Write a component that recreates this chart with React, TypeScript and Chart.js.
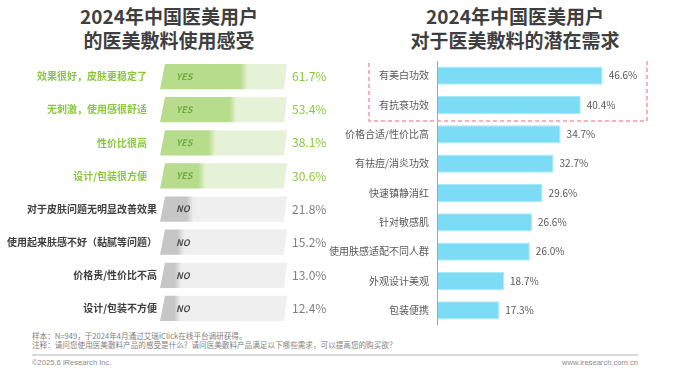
import React, { useEffect, useRef } from "react";
import { Chart, registerables } from "chart.js";

Chart.register(...registerables);

const FONT = '"Noto Sans CJK SC", "Noto Sans", sans-serif';

// Left chart: feelings about medical dressing
const feelLabels = [
  "效果很好，皮肤更稳定了",
  "无刺激，使用感很舒适",
  "性价比很高",
  "设计/包装很方便",
  "对于皮肤问题无明显改善效果",
  "使用起来肤感不好（黏腻等问题）",
  "价格贵/性价比不高",
  "设计/包装不方便",
];
const feelValues = [61.7, 53.4, 38.1, 30.6, 21.8, 15.2, 13.0, 12.4];
const feelGroups = ["YES", "YES", "YES", "YES", "NO", "NO", "NO", "NO"];
const feelAxisMax = 94;

// Right chart: needs
const needLabels = [
  "有美白功效",
  "有抗衰功效",
  "价格合适/性价比高",
  "有祛痘/消炎功效",
  "快速镇静消红",
  "针对敏感肌",
  "使用肤感适配不同人群",
  "外观设计美观",
  "包装便携",
];
const needValues = [46.6, 40.4, 34.7, 32.7, 29.6, 26.6, 26.0, 18.7, 17.3];
const highlightedNeeds = 2;
const needAxisMax = 60;

const leftTitle = ["2024年中国医美用户", "的医美敷料使用感受"];
const rightTitle = ["2024年中国医美用户", "对于医美敷料的潜在需求"];
const notes = [
  "样本：N=949，于2024年4月通过艾瑞iClick在线平台调研获得。",
  "注释：请问您使用医美敷料产品的感受是什么？请问医美敷料产品满足以下哪些需求，可以提高您的购买欲？",
];
const copyright = "©2025.6 iResearch Inc.";
const website = "www.iresearch.com.cn";

const groupStyle: Record<string, any> = {
  YES: { dark: "#b6dc8c", light: "#e6f2d8", tag: "#6fae3f", pct: "#8cc63f", label: "#8cc63f", labelGap: 13 },
  NO: { dark: "#c6c6c6", light: "#efefef", tag: "#505050", pct: "#7f7f7f", label: "#404040", labelGap: 3 },
};

const feelPlugin = {
  id: "feelBars",
  afterDatasetsDraw(chart: any) {
    const ctx = chart.ctx;
    const area = chart.chartArea;
    const xs = chart.scales.x;
    const meta = chart.getDatasetMeta(0);
    meta.data.forEach((el: any, i: number) => {
      const p = el.getProps(["x", "y", "height"], true);
      const y = p.y;
      const h = p.height;
      const top = y - h / 2;
      const bot = y + h / 2;
      const L = xs.getPixelForValue(0);
      const R = area.right;
      const st = groupStyle[feelGroups[i]];
      const vx = p.x;
      const g = ctx.createLinearGradient(L, 0, R, 0);
      const s1 = Math.max(0, Math.min(1, (vx - 3 - L) / (R - L)));
      const s2 = Math.max(0, Math.min(1, (vx + 4 - L) / (R - L)));
      g.addColorStop(0, st.dark);
      g.addColorStop(s1, st.dark);
      g.addColorStop(s2, st.light);
      g.addColorStop(1, st.light);
      ctx.save();
      ctx.beginPath();
      ctx.moveTo(L + 5, top);
      ctx.lineTo(R, top);
      ctx.lineTo(R - 3, bot);
      ctx.lineTo(L, bot);
      ctx.closePath();
      ctx.fillStyle = g;
      ctx.fill();

      ctx.textBaseline = "middle";
      ctx.font = `italic bold 9px ${FONT}`;
      ctx.fillStyle = st.tag;
      ctx.textAlign = "left";
      ctx.fillText(feelGroups[i], L + 16, y);

      ctx.font = `12px ${FONT}`;
      ctx.fillStyle = st.pct;
      ctx.fillText(feelValues[i].toFixed(1) + "%", R + 5, y);

      ctx.font = `bold 10px ${FONT}`;
      ctx.fillStyle = st.label;
      ctx.textAlign = "right";
      ctx.fillText(feelLabels[i], L - st.labelGap, y);
      ctx.restore();
    });
  },
};

const needPlugin = {
  id: "needExtras",
  afterDatasetsDraw(chart: any) {
    const ctx = chart.ctx;
    const area = chart.chartArea;
    const meta = chart.getDatasetMeta(0);
    ctx.save();
    // axis line
    ctx.strokeStyle = "#a6a6a6";
    ctx.lineWidth = 1;
    ctx.beginPath();
    ctx.moveTo(area.left - 0.5, area.top - 1);
    ctx.lineTo(area.left - 0.5, area.bottom);
    ctx.stroke();

    ctx.font = `10px ${FONT}`;
    ctx.textBaseline = "middle";
    meta.data.forEach((el: any, i: number) => {
      const p = el.getProps(["x", "y"], true);
      ctx.fillStyle = "#595959";
      ctx.textAlign = "left";
      ctx.fillText(needValues[i].toFixed(1) + "%", p.x + 6, p.y);
      ctx.textAlign = "right";
      ctx.fillText(needLabels[i], area.left - 9, p.y);
    });
    // dashed highlight box around top rows
    const first = meta.data[0].getProps(["y"], true).y;
    const last = meta.data[highlightedNeeds - 1].getProps(["y"], true).y;
    ctx.beginPath();
    ctx.strokeStyle = "#f59aa6";
    ctx.lineWidth = 1.5;
    ctx.setLineDash([4, 3]);
    ctx.rect(
      Math.round(area.left - 69),
      Math.round(first - 17),
      Math.round(area.right - 3 - (area.left - 69)),
      Math.round(last - first + 33)
    );
    ctx.stroke();
    ctx.restore();
  },
};

function FeelChart() {
  const ref = useRef<HTMLCanvasElement>(null);
  useEffect(() => {
    const chart = new Chart(ref.current!, {
      type: "bar",
      data: {
        labels: feelLabels,
        datasets: [
          {
            data: feelValues,
            backgroundColor: "rgba(0,0,0,0)",
            barPercentage: 0.76,
            categoryPercentage: 1,
          },
        ],
      },
      options: {
        indexAxis: "y",
        responsive: false,
        animation: false,
        layout: { padding: { left: 160, right: 58, top: 0, bottom: 0 } },
        plugins: { legend: { display: false }, tooltip: { enabled: false } },
        scales: {
          x: { display: false, min: 0, max: feelAxisMax },
          y: { display: false },
        },
      },
      plugins: [feelPlugin],
    });
    return () => chart.destroy();
  }, []);
  return (
    <canvas
      ref={ref}
      width={345}
      height={265}
      style={{ position: "absolute", left: 0, top: 60, width: 345, height: 265 }}
    />
  );
}

function NeedChart() {
  const ref = useRef<HTMLCanvasElement>(null);
  useEffect(() => {
    const chart = new Chart(ref.current!, {
      type: "bar",
      data: {
        labels: needLabels,
        datasets: [
          {
            data: needValues,
            backgroundColor: "#7ddcf5",
            borderColor: "#a9e9f9",
            borderWidth: 1,
            barPercentage: 0.62,
            categoryPercentage: 1,
          },
        ],
      },
      options: {
        indexAxis: "y",
        responsive: false,
        animation: false,
        layout: { padding: { left: 118, right: 50, top: 0, bottom: 0 } },
        plugins: { legend: { display: false }, tooltip: { enabled: false } },
        scales: {
          x: { display: false, min: 0, max: needAxisMax },
          y: { display: false },
        },
      },
      plugins: [needPlugin],
    });
    return () => chart.destroy();
  }, []);
  return (
    <canvas
      ref={ref}
      width={380}
      height={264}
      style={{ position: "absolute", left: 320, top: 61, width: 380, height: 264 }}
    />
  );
}

function Title({ lines, cx }: { lines: string[]; cx: number }) {
  return (
    <div
      style={{
        position: "absolute",
        left: cx - 150,
        top: 4,
        width: 300,
        textAlign: "center",
        fontFamily: FONT,
        fontWeight: 700,
        fontSize: 19,
        lineHeight: "24px",
        color: "#3f3f3f",
      }}
    >
      {lines.map((l, i) => (
        <div key={i}>{l}</div>
      ))}
    </div>
  );
}

export default function App() {
  return (
    <div
      style={{
        position: "fixed",
        left: 0,
        top: 0,
        width: 700,
        height: 373,
        overflow: "hidden",
        background: "#ffffff",
        fontFamily: FONT,
      }}
    >
      <Title lines={leftTitle} cx={169} />
      <Title lines={rightTitle} cx={515} />
      <FeelChart />
      <NeedChart />
      <div
        style={{
          position: "absolute",
          left: 32,
          top: 332,
          fontSize: 7.6,
          lineHeight: "8.5px",
          color: "#7f7f7f",
          whiteSpace: "nowrap",
        }}
      >
        {notes.map((n, i) => (
          <div key={i}>{n}</div>
        ))}
      </div>
      <div
        style={{
          position: "absolute",
          left: 32,
          top: 354,
          width: 606,
          height: 2,
          background: "#d9d9d9",
        }}
      />
      <div
        style={{
          position: "absolute",
          left: 32,
          top: 358,
          fontSize: 7.6,
          lineHeight: "10px",
          color: "#8c8c8c",
          fontFamily: '"Liberation Sans", Arial, sans-serif',
        }}
      >
        {copyright}
      </div>
      <div
        style={{
          position: "absolute",
          right: 62,
          top: 358,
          fontSize: 7.6,
          lineHeight: "10px",
          color: "#8c8c8c",
          fontFamily: '"Liberation Sans", Arial, sans-serif',
        }}
      >
        {website}
      </div>
    </div>
  );
}
